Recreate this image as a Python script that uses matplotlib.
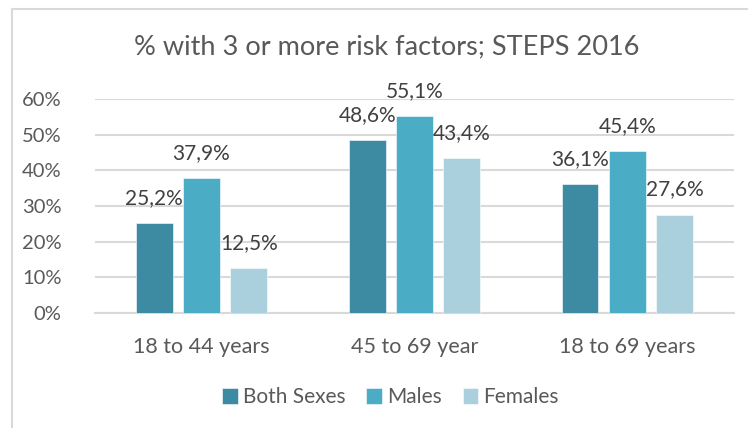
import matplotlib.pyplot as plt
from matplotlib.lines import Line2D
import numpy as np

# Share of adults with 3 or more risk factors, STEPS survey 2016
age_groups = ['18 to 44 years', '45 to 69 year', '18 to 69 years']
both_sexes = [25.2, 48.6, 36.1]
males = [37.9, 55.1, 45.4]
females = [12.5, 43.4, 27.6]
y_ticks = [0, 10, 20, 30, 40, 50, 60]

series = [('Both Sexes', both_sexes, '#3C8BA2'),
          ('Males', males, '#4BACC6'),
          ('Females', females, '#AACFDD')]

plt.rcParams['font.family'] = ['Lato', 'DejaVu Sans']

fig = plt.figure(figsize=(7.48, 4.28), dpi=100)
ax = fig.add_axes([0.127, 0.2687, 0.854, 0.5])

x = np.arange(len(age_groups))
width = 0.173
step = 0.222

for i, (name, vals, color) in enumerate(series):
    pos = x + (i - 1) * step
    bars = ax.bar(pos, vals, width, color=color, label=name, zorder=3,
                  edgecolor='white', linewidth=0.4)
    for b, v in zip(bars, vals):
        ax.annotate(f'{v:.1f}%'.replace('.', ','),
                    (b.get_x() + b.get_width() / 2, v),
                    xytext=(0, 18), textcoords='offset points',
                    ha='center', va='center', fontsize=15, color='#404040')

ax.set_xlim(-0.5, len(age_groups) - 0.5)
ax.set_ylim(0, 60)
ax.set_yticks(y_ticks)
ax.set_yticklabels([f'{t}%' for t in y_ticks], fontsize=14.5, color='#595959')
ax.set_xticks(x)
ax.set_xticklabels(age_groups, fontsize=15.5, color='#595959')
ax.tick_params(length=0)
ax.tick_params(axis='y', pad=24)
ax.tick_params(axis='x', pad=17)
ax.grid(axis='y', color='#D9D9D9', linewidth=1.5, zorder=0)
for side in ['top', 'right', 'left']:
    ax.spines[side].set_visible(False)
ax.spines['bottom'].set_color('#D9D9D9')
ax.spines['bottom'].set_linewidth(1.5)

fig.text(0.517, 0.89, '% with 3 or more risk factors; STEPS 2016',
         ha='center', va='center', fontsize=19.5, color='#595959')

fig.legend(loc='center', bbox_to_anchor=(0.522, 0.072), ncol=3, frameon=False,
           fontsize=15, labelcolor='#595959', handlelength=0.75,
           handleheight=0.75, handletextpad=0.25, columnspacing=1.0)

# chart frame
fig.add_artist(Line2D([0.0167, 0.0167], [0, 0.978], color='#D9D9D9',
                      linewidth=1.5, transform=fig.transFigure))
fig.add_artist(Line2D([0.0167, 1.0], [0.978, 0.978], color='#D9D9D9',
                      linewidth=1.5, transform=fig.transFigure))

fig.savefig('out.png', dpi=100)
